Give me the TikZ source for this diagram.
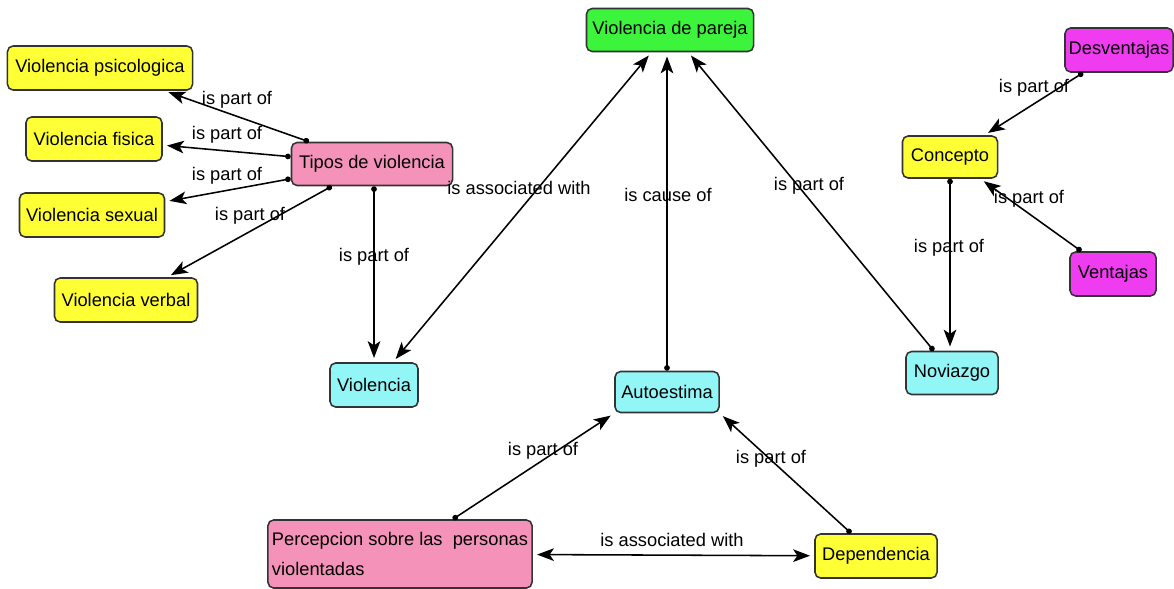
\documentclass[tikz,border=0pt]{standalone}
\usepackage{fontspec}
\setmainfont{Liberation Sans}
\usetikzlibrary{arrows.meta}
\definecolor{cyellow}{HTML}{FFFF36}
\definecolor{cpink}{HTML}{F592BA}
\definecolor{cgreen}{HTML}{3CF43C}
\definecolor{ccyan}{HTML}{92F6F6}
\definecolor{cmagenta}{HTML}{F03CF0}

\begin{document}
\begin{tikzpicture}[x=0.025cm, y=-0.025cm,
        concept/.style={draw=black!80, line width=1.1pt, rounded corners=4pt, inner xsep=2pt, inner ysep=2pt, minimum height=1.1cm, font=\fontsize{13}{21}\selectfont},
        linkword/.style={inner sep=0pt, font=\fontsize{13}{15}\selectfont},
        link/.style={line width=1.1pt, {Circle[length=4pt]}-{Stealth[length=12pt,width=9pt,inset=3pt]}, shorten >=3pt},
        both/.style={line width=1.1pt, {Stealth[length=12pt,width=9pt,inset=3pt]}-{Stealth[length=12pt,width=9pt,inset=3pt]}, shorten >=3pt, shorten <=3pt}]

    \useasboundingbox (0,0) rectangle (1174,589);

    \node[concept, fill=cyellow, minimum width=4.625cm] (psico) at (100,68) {Violencia psicologica};
    \node[concept, fill=cyellow, minimum width=3.4cm] (fisica) at (94,139) {Violencia fisica};
    \node[concept, fill=cyellow, minimum width=3.625cm] (sexual) at (92,215) {Violencia sexual};
    \node[concept, fill=cyellow, minimum width=3.575cm] (verbal) at (126,300) {Violencia verbal};
    \node[concept, fill=cpink, minimum width=4.025cm, minimum height=1.075cm] (tipos) at (372,164) {Tipos de violencia};
    \node[concept, fill=cgreen, minimum width=4.175cm, minimum height=1.075cm] (pareja) at (670,30) {Violencia de pareja};
    \node[concept, fill=cmagenta, minimum width=2.7cm] (desv) at (1119,50) {Desventajas};
    \node[concept, fill=cyellow, minimum width=2.375cm, minimum height=1.05cm] (concepto) at (950,157) {Concepto};
    \node[concept, fill=cmagenta, minimum width=2.15cm] (vent) at (1113,274) {Ventajas};
    \node[concept, fill=ccyan, minimum width=2.3cm, minimum height=1.075cm] (novi) at (952,373) {Noviazgo};
    \node[concept, fill=ccyan, minimum width=2.2cm] (viol) at (374,385) {Violencia};
    \node[concept, fill=ccyan, minimum width=2.6cm, minimum height=1.025cm] (auto) at (667,392) {Autoestima};
    \node[concept, fill=cpink, minimum width=6.6cm, minimum height=1.7cm, align=left] (perc) at (400,554) {Percepcion sobre las\ \ personas\\violentadas};
    \node[concept, fill=cyellow, minimum width=3.05cm] (dep) at (876,556) {Dependencia};

    \draw[link] (tipos) -- (psico);
    \draw[link] (tipos) -- (fisica);
    \draw[link] (tipos) -- (sexual);
    \draw[link] (tipos) -- (verbal);
    \draw[link] (viol.north |- tipos.south) -- (viol.north);
    \draw[both] (viol) -- (pareja);
    \draw[link] (auto.north) -- (auto.north |- pareja.south);
    \draw[link] (novi) -- (pareja);
    \draw[link] (concepto.south) -- (concepto.south |- novi.north);
    \draw[link] (desv) -- (concepto);
    \draw[link] (vent) -- (concepto);
    \draw[link] (perc) -- (auto.south west);
    \draw[link] (dep) -- (auto.south east);
    \draw[both] (perc) -- (dep);

    \node[linkword] (lpsico) at (237,100) {is part of};
    \node[linkword] (lfisica) at (227,135) {is part of};
    \node[linkword] (lsexual) at (227,176) {is part of};
    \node[linkword] (lverbal) at (250,216) {is part of};
    \node[linkword] (lviol) at (374,257) {is part of};
    \node[linkword] (lpareja) at (519,188) {is associated with};
    \node[linkword] (lauto) at (668,195) {is cause of};
    \node[linkword] (lnovi) at (809,186) {is part of};
    \node[linkword] (lconcepto) at (949,248) {is part of};
    \node[linkword] (ldesv) at (1034,88) {is part of};
    \node[linkword] (lvent) at (1029,199) {is part of};
    \node[linkword] (lperc) at (543,451) {is part of};
    \node[linkword] (ldep) at (771,459) {is part of};
    \node[linkword] (lassoc) at (672,540) {is associated with};
\end{tikzpicture}
\end{document}
